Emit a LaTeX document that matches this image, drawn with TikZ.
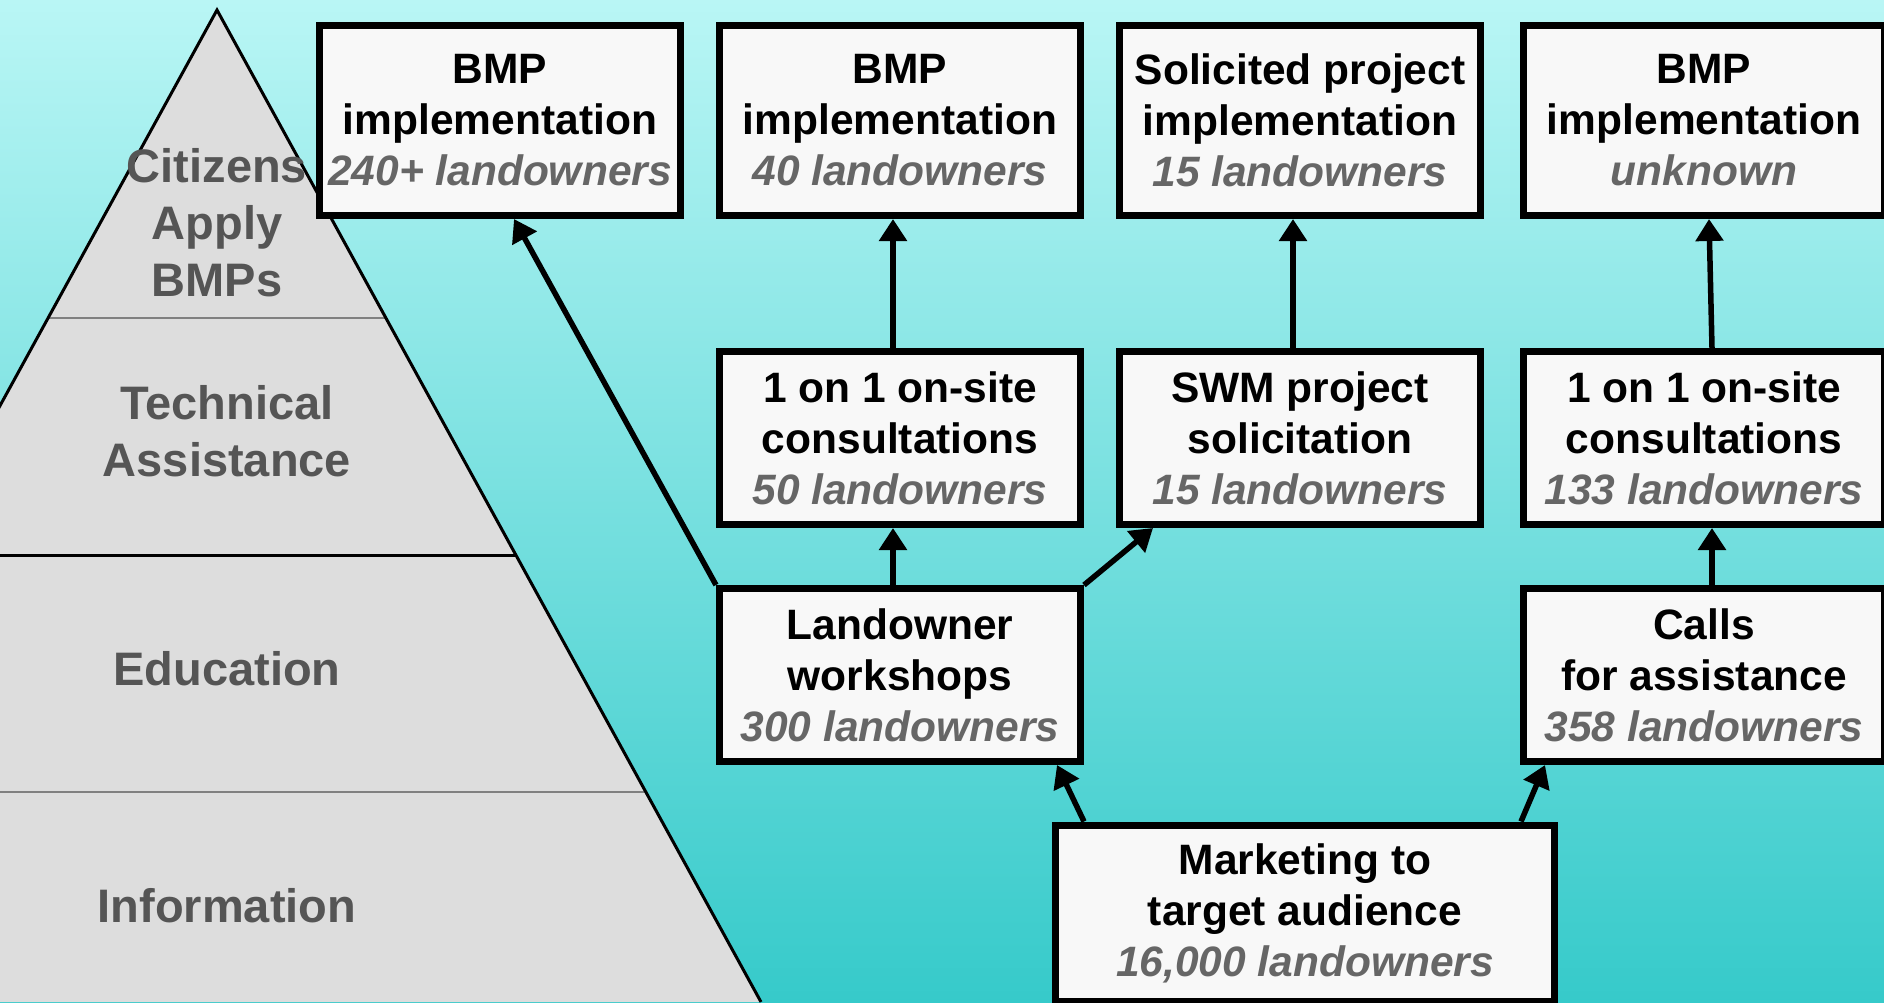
\documentclass[tikz,border=0pt]{standalone}
\usepackage{fontspec}
\setmainfont{Liberation Sans}
\usetikzlibrary{arrows.meta}
\definecolor{skytop}{HTML}{B9F6F5}
\definecolor{skybot}{HTML}{36CACA}
\definecolor{pyrfill}{HTML}{DDDDDD}
\definecolor{pyrtext}{HTML}{555555}
\definecolor{cnttext}{HTML}{666666}
\definecolor{boxfill}{HTML}{F8F8F8}
\newcommand{\tally}[1]{\\{\color{cnttext}\itshape #1}}

\begin{document}
\begin{tikzpicture}[x=0.5pt,y=-0.5pt]
	\tikzset{stage/.style={draw,line width=3.5pt,fill=boxfill,align=center,inner sep=0pt,minimum width=180.5pt,minimum height=86.5pt,font=\bfseries\fontsize{21.25}{25.5}\selectfont}}
	\tikzset{toprow/.style={stage,minimum height=95pt}}
	\tikzset{level/.style={text=pyrtext,align=center,font=\bfseries\fontsize{23.5}{28.5}\selectfont}}
	\tikzset{flow/.style={line width=2.75pt,-{Triangle[length=11pt,width=13.5pt]}}}
	\clip (0,0) rectangle (1884,1002);
	\shade[top color=skytop,bottom color=skybot] (0,0) rectangle (1884,1002);
	\coordinate (apex) at (217,10);
	\coordinate (baseL) at (-327,1002);
	\coordinate (baseR) at (761,1002);
	\begin{scope}
		\fill[pyrfill] (apex) -- (baseL) -- (baseR) -- cycle;
		\clip (apex) -- (baseL) -- (baseR) -- cycle;
		\draw[gray,line width=1.2pt] (-400,318) -- (900,318);
		\draw[line width=1.5pt] (-400,555) -- (900,555);
		\draw[gray,line width=1.2pt] (-400,792) -- (900,792);
	\end{scope}
	\draw[line width=1.5pt,line join=miter] (baseL) -- (apex) -- (baseR);
	\node[level] (citizens) at (217,223) {Citizens\\Apply\\BMPs};
	\node[level] (techAss) at (227,431) {Technical\\Assistance};
	\node[level] (educ) at (227,669) {Education};
	\node[level] (info) at (227,906) {Information};
	\node[toprow] (bmpA) at (500,120.5) {BMP\\implementation\tally{240+ landowners}};
	\node[toprow] (bmpB) at (900,120.5) {BMP\\implementation\tally{40 landowners}};
	\node[toprow] (solImp) at (1300,120.5) {Solicited project\\implementation\tally{15 landowners}};
	\node[toprow] (bmpD) at (1704,120.5) {BMP\\implementation\tally{unknown}};
	\node[stage] (consB) at (900,438) {1 on 1 on-site\\consultations\tally{50 landowners}};
	\node[stage] (swm) at (1300,438) {SWM project\\solicitation\tally{15 landowners}};
	\node[stage] (consD) at (1704,438) {1 on 1 on-site\\consultations\tally{133 landowners}};
	\node[stage] (wkshp) at (900,675) {Landowner\\workshops\tally{300 landowners}};
	\node[stage] (calls) at (1704,675) {Calls\\for assistance\tally{358 landowners}};
	\node[stage,minimum width=249.5pt,minimum height=88pt] (mkt) at (1305,913) {Marketing to\\target audience\tally{16,000 landowners}};
	\draw[flow] (wkshp.north west) -- ([xshift=7pt]bmpA.south);
	\draw[flow] ([xshift=-3.5pt]wkshp.north) -- ([xshift=-3.5pt]consB.south);
	\draw[flow] (wkshp.north east) -- ([xshift=18.5pt]swm.south west);
	\draw[flow] ([xshift=-3.5pt]consB.north) -- ([xshift=-3.5pt]bmpB.south);
	\draw[flow] ([xshift=-3.5pt]swm.north) -- ([xshift=-3.5pt]solImp.south);
	\draw[flow] ([xshift=4pt]consD.north) -- ([xshift=2.5pt]bmpD.south);
	\draw[flow] ([xshift=4pt]calls.north) -- ([xshift=4pt]consD.south);
	\draw[flow] ([xshift=16pt]mkt.north west) -- ([xshift=-13.5pt]wkshp.south east);
	\draw[flow] ([xshift=-18.5pt]mkt.north east) -- ([xshift=12.5pt]calls.south west);
\end{tikzpicture}
\end{document}
